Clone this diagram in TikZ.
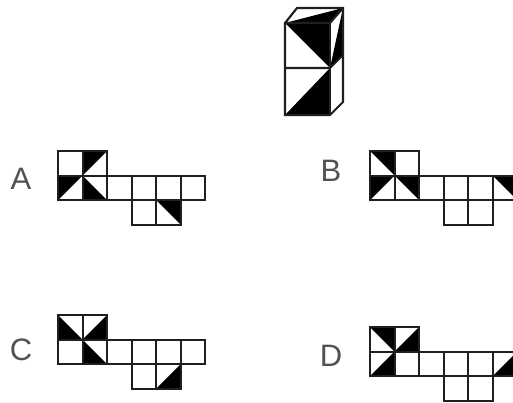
\documentclass[tikz,border=0pt]{standalone}
\usepackage{fontspec}
\setmainfont{Liberation Sans}
\tikzset{
  edge/.style={draw=black!88,line width=2.1pt,line join=miter},
  shade/.style={fill=black},
  letter/.style={inner sep=0pt,font=\fontsize{31}{31}\selectfont,text=black!68},
  netcell/.style={x=24.55pt,y=-24.55pt}
}
% net of the unfolded solid: two top cells, six middle cells, two lower cells
\newcommand{\netgrid}[1]{%
  \draw[edge] (0,0) rectangle (2,2);
  \draw[edge] (0,1) -- (6,1) -- (6,2) -- (0,2);
  \draw[edge] (1,0) -- (1,2);
  \foreach \c in {3,4,5} {\draw[edge] (\c,1) -- (\c,2);}
  \draw[edge] (#1,2) rectangle (#1+2,3);
  \draw[edge] (#1+1,2) -- (#1+1,3);
}
% black half cells: corner triangles named by the corner they leave out
\newcommand{\hTR}[2]{\fill[shade] (#1,#2) -- (#1+1,#2) -- (#1,#2+1) -- cycle;}   % TL TR BL
\newcommand{\hBL}[2]{\fill[shade] (#1,#2) -- (#1+1,#2) -- (#1+1,#2+1) -- cycle;} % TL TR BR
\newcommand{\hLL}[2]{\fill[shade] (#1,#2) -- (#1,#2+1) -- (#1+1,#2+1) -- cycle;} % TL BL BR
\newcommand{\hLR}[2]{\fill[shade] (#1+1,#2) -- (#1+1,#2+1) -- (#1,#2+1) -- cycle;} % TR BR BL
\begin{document}
\begin{tikzpicture}[x=1pt,y=-1pt]
\useasboundingbox (0,0) rectangle (513,402);
\clip (0,0) rectangle (513,402);
\fill[white] (0,0) rectangle (513,402);

% solid
\coordinate (ftl) at (285,23);
\coordinate (ftr) at (330,23);
\coordinate (fml) at (285,68);
\coordinate (fmr) at (330,68);
\coordinate (fbl) at (285,115);
\coordinate (fbr) at (330,115);
\coordinate (btl) at (297,8);
\coordinate (btr) at (343,8);
\coordinate (bmr) at (343,55);
\coordinate (bbr) at (343,102);
\fill[shade] (ftl) -- (btr) -- (ftr) -- (fmr) -- cycle;
\fill[shade] (btr) -- (bmr) -- (fmr) -- cycle;
\fill[shade] (fmr) -- (fbr) -- (fbl) -- cycle;
\draw[edge] (ftl) -- (btl) -- (btr) -- (bbr) -- (fbr) -- (fbl) -- (ftl) -- (ftr) -- (btr);
\draw[edge] (ftr) -- (fbr);
\draw[edge] (fml) -- (fmr) -- (bmr);

% A
\node[letter] (la) at (21,179) {A};
\begin{scope}[shift={(58,151)},netcell]
  \hTR{1}{0} \hTR{0}{1} \hLL{1}{1} \hBL{4}{2}
  \netgrid{3}
\end{scope}

% B
\node[letter] (lb) at (331,171) {B};
\begin{scope}[shift={(370,151)},netcell]
  \hBL{0}{0} \hTR{0}{1} \hBL{1}{1} \hBL{5}{1}
  \netgrid{3}
\end{scope}

% C
\node[letter] (lc) at (21,350) {C};
\begin{scope}[shift={(58,315)},netcell]
  \hLL{0}{0} \hLR{1}{0} \hLL{1}{1} \hLR{4}{2}
  \netgrid{3}
\end{scope}

% D
\node[letter] (ld) at (331,356) {D};
\begin{scope}[shift={(370,327)},netcell]
  \hBL{0}{0} \hLR{1}{0} \hLR{0}{1} \hLR{5}{1}
  \netgrid{3}
\end{scope}
\end{tikzpicture}
\end{document}
